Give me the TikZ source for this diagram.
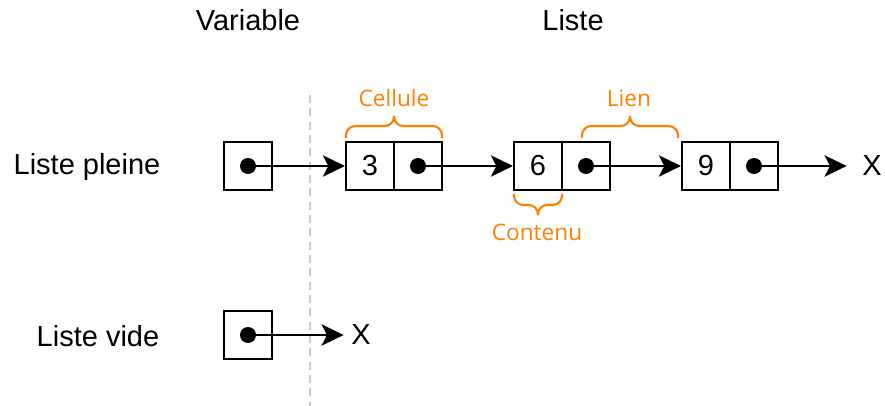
\documentclass[tikz,border=0pt]{standalone}
\usepackage{fontspec}
\setmainfont{Liberation Sans}
\newfontfamily\notefont{Open Sans}
\usetikzlibrary{arrows.meta}
\definecolor{arancio}{HTML}{FF8000}

\begin{document}
\begin{tikzpicture}[x=0.75pt, y=-0.75pt, line width=1.6pt]
	% Stili per celle, puntatori e accolades
	\tikzset{casella/.style={rectangle, draw, minimum size=36pt, inner sep=0pt, font=\fontsize{21.75}{24}\selectfont},
		punto/.style={circle, fill, minimum size=12pt, inner sep=0pt},
		testo/.style={inner sep=0pt, font=\fontsize{21.75}{24}\selectfont},
		nota/.style={inner sep=0pt, text=arancio, font=\notefont\fontsize{17}{20}\selectfont},
		fleche/.style={-{Stealth[length=16.5pt, width=16pt, inset=4pt]}},
		accolade/.style={draw=arancio, rounded corners=7pt}}
	\useasboundingbox (0,0) rectangle (885,406);
	
	% Titoli e separatore
	\node[testo] (tvar) at (248,20) {Variable};
	\node[testo] (tlis) at (573,20) {Liste};
	\draw[gray!40, dash pattern=on 6pt off 4pt] (310,95) -- (310,406);
	
	% Liste pleine
	\node[testo] (lpl) at (87,167) {Liste pleine};
	\node[casella] (a) at (248,166) {};
	\node[casella] (v3) at (370,166) {3};
	\node[casella] (p3) at (418,166) {};
	\node[casella] (v6) at (538,166) {6};
	\node[casella] (p6) at (586,166) {};
	\node[casella] (v9) at (706,166) {9};
	\node[casella] (p9) at (754,166) {};
	\node[testo] (x1) at (872,166) {X};
	
	\node[punto] (d0) at (a) {};
	\node[punto] (d3) at (p3) {};
	\node[punto] (d6) at (p6) {};
	\node[punto] (d9) at (p9) {};
	
	\draw[fleche] (d0.center) -- (v3.west);
	\draw[fleche] (d3.center) -- (v6.west);
	\draw[fleche] (d6.center) -- (v9.west);
	\draw[fleche] (d9.center) -- ([xshift=-11pt]x1.west);
	
	% Liste vide
	\node[testo] (lvi) at (98,336) {Liste vide};
	\node[casella] (b) at (248,335) {};
	\node[punto] (dv) at (b) {};
	\node[testo] (x2) at (361,335) {X};
	\draw[fleche] (dv.center) -- ([xshift=-5pt]x2.west);
	
	% Accolades
	\draw[accolade] (346,138) -- (346,126) -- (394,126) -- (394,116);
	\draw[accolade] (394,116) -- (394,126) -- (442,126) -- (442,138);
	\draw[accolade] (582,138) -- (582,126) -- (630,126) -- (630,116);
	\draw[accolade] (630,116) -- (630,126) -- (678,126) -- (678,138);
	\draw[accolade] (514,194) -- (514,205) -- (538,205) -- (538,215);
	\draw[accolade] (538,215) -- (538,205) -- (562,205) -- (562,194);
	\node[nota] (ncel) at (394,98) {Cellule};
	\node[nota] (nlie) at (629,98) {Lien};
	\node[nota] (ncon) at (537,232) {Contenu};
\end{tikzpicture}
\end{document}
